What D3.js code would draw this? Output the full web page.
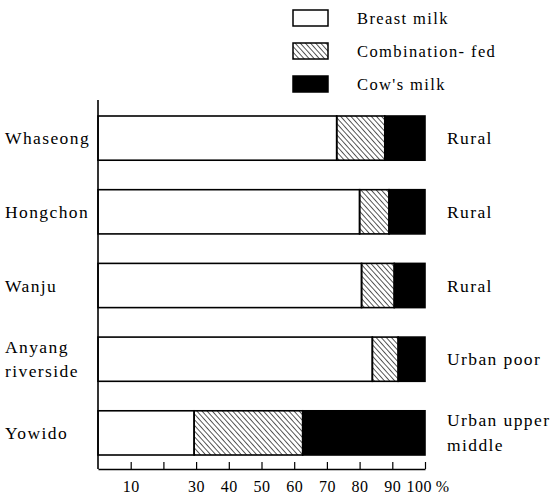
<!DOCTYPE html>
<meta charset="utf-8">
<style>
body { margin: 0; background: #fff; }
svg text { font-family: "Liberation Serif", "Times New Roman", serif; fill: #000; }
.lbl { font-size: 17.5px; letter-spacing: 1.4px; }
.tick text { font-size: 16px; letter-spacing: 0.5px; }
</style>
<body>
<script src="https://d3js.org/d3.v7.min.js"></script>
<script>

// data (percent of infants)
var sites = ["Whaseong", "Hongchon", "Wanju", "Anyang riverside", "Yowido"];
var siteLines = [["Whaseong"], ["Hongchon"], ["Wanju"], ["Anyang", "riverside"], ["Yowido"]];
var areaLines = [["Rural"], ["Rural"], ["Rural"], ["Urban poor"], ["Urban upper", "middle"]];
var breast = [73.0, 80.0, 80.6, 83.9, 29.4];
var combo  = [14.7, 9.0, 10.0, 7.9, 33.2];
var cow    = [12.3, 11.0, 9.4, 8.2, 37.4];
var tickValues = [10, 20, 30, 40, 50, 60, 70, 80, 90, 100];
var tickLabels = ["10", "", "30", "40", "50", "60", "70", "80", "90", "100\u2009%"];
var legendNames = ["Breast milk", "Combination- fed", "Cow's milk"];

var width = 552, height = 497;

var svg = d3.select("body").append("svg")
    .attr("width", width)
    .attr("height", height);

// hatch pattern for combination-fed
var defs = svg.append("defs");
defs.append("pattern")
    .attr("id", "hatch")
    .attr("patternUnits", "userSpaceOnUse")
    .attr("width", 3.8)
    .attr("height", 10)
    .attr("patternTransform", "rotate(-42)")
  .append("line")
    .attr("x1", 0).attr("y1", 0)
    .attr("x2", 0).attr("y2", 10)
    .attr("stroke", "#000")
    .attr("stroke-width", 1.3);

var fills = ["#fff", "url(#hatch)", "#000"];

var x = d3.scaleLinear().domain([0, 100]).range([98, 425]);
var y = d3.scaleBand().domain(sites).range([116, 455]).paddingInner(0.4).paddingOuter(0);

// stack the three series
var rows = sites.map(function(s, i) {
  return { site: s, breast: breast[i], combo: combo[i], cow: cow[i] };
});
var stack = d3.stack().keys(["breast", "combo", "cow"]);
var series = stack(rows);

svg.append("g")
  .selectAll("g")
  .data(series)
  .join("g")
    .attr("fill", function(d, i) { return fills[i]; })
  .selectAll("rect")
  .data(function(d) { return d; })
  .join("rect")
    .attr("x", function(d) { return x(d[0]); })
    .attr("width", function(d) { return x(d[1]) - x(d[0]); })
    .attr("y", function(d) { return y(d.data.site); })
    .attr("height", y.bandwidth())
    .attr("stroke", "#000")
    .attr("stroke-width", 1.6);

// vertical axis line
svg.append("line")
    .attr("x1", x(0)).attr("x2", x(0))
    .attr("y1", 100).attr("y2", 469)
    .attr("stroke", "#000")
    .attr("stroke-width", 1.6);

// bottom axis, ticks pointing up
var xAxis = d3.axisBottom(x)
    .tickValues(tickValues)
    .tickFormat(function(d, i) { return tickLabels[i]; })
    .tickSizeInner(-7)
    .tickSizeOuter(0)
    .tickPadding(12);

var gx = svg.append("g")
    .attr("transform", "translate(0,469)")
    .call(xAxis);
gx.attr("font-family", null).attr("font-size", null);
gx.select(".domain").attr("stroke-width", 1.6);
gx.selectAll(".tick line").attr("stroke-width", 1.2);
gx.selectAll(".tick text")
    .attr("fill", "#000")
    .attr("text-anchor", function(d) { return d === 100 ? "start" : "middle"; })
    .attr("dx", function(d) { return d === 100 ? -19 : 0; });

// site labels on the left
siteLines.forEach(function(lines, i) {
  var cy = y(sites[i]) + y.bandwidth() / 2;
  var n = lines.length;
  lines.forEach(function(t, j) {
    svg.append("text")
        .attr("class", "lbl")
        .attr("x", 5)
        .attr("y", cy + (j - (n - 1) / 2) * 24 + 6)
        .text(t);
  });
});

// area type labels on the right
areaLines.forEach(function(lines, i) {
  var cy = y(sites[i]) + y.bandwidth() / 2;
  var n = lines.length;
  lines.forEach(function(t, j) {
    svg.append("text")
        .attr("class", "lbl")
        .attr("x", 447)
        .attr("y", cy + (j - (n - 1) / 2) * 25 + 6)
        .text(t);
  });
});

// legend
var legend = svg.append("g");
legendNames.forEach(function(name, i) {
  var ly = 10 + i * 33;
  legend.append("rect")
      .attr("x", 293).attr("y", ly)
      .attr("width", 35).attr("height", 16)
      .attr("fill", fills[i])
      .attr("stroke", "#000")
      .attr("stroke-width", 1.5);
  legend.append("text")
      .attr("class", "lbl")
      .attr("x", 357)
      .attr("y", ly + 14)
      .style("font-size", "16.5px")
      .text(name);
});

</script>
</body>
